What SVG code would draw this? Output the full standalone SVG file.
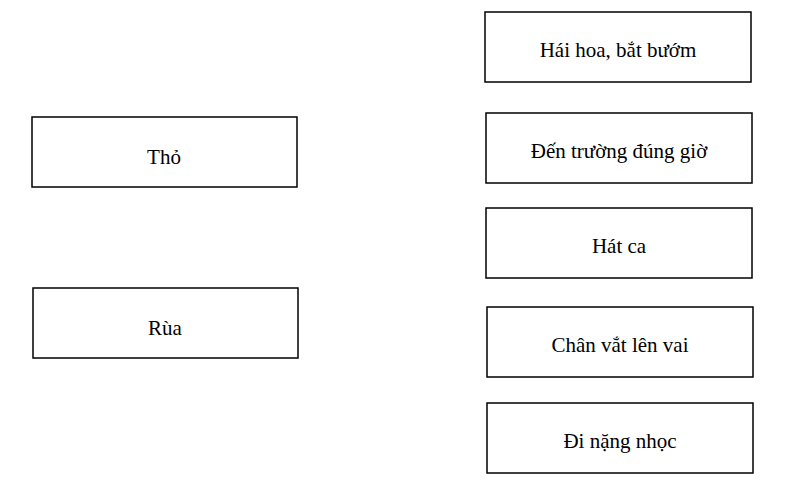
<svg xmlns="http://www.w3.org/2000/svg" width="789" height="493" viewBox="0 0 789 493">
<style>
.b{fill:#fff;stroke:#000;stroke-width:1.5}
text{font-family:"Liberation Serif",serif;font-size:21px;text-anchor:middle;dominant-baseline:central;fill:#000}
</style>
<rect width="789" height="493" fill="#fff"/>
<g id="tho"><rect class="b" x="32" y="117" width="265" height="70"/><text x="164" y="157">Thỏ</text></g>
<g id="rua"><rect class="b" x="33" y="288" width="265" height="70"/><text x="165" y="328">Rùa</text></g>
<g id="haihoa"><rect class="b" x="485" y="12" width="266" height="70"/><text x="618" y="50">Hái hoa, bắt bướm</text></g>
<g id="dentruong"><rect class="b" x="486" y="113" width="266" height="70"/><text x="619" y="151">Đến trường đúng giờ</text></g>
<g id="hatca"><rect class="b" x="486" y="208" width="266" height="70"/><text x="619" y="246">Hát ca</text></g>
<g id="chanvat"><rect class="b" x="487" y="307" width="266" height="70"/><text x="620" y="345">Chân vắt lên vai</text></g>
<g id="dinang"><rect class="b" x="487" y="403" width="266" height="70"/><text x="620" y="441">Đi nặng nhọc</text></g>
<g id="connectors"></g>
</svg>
